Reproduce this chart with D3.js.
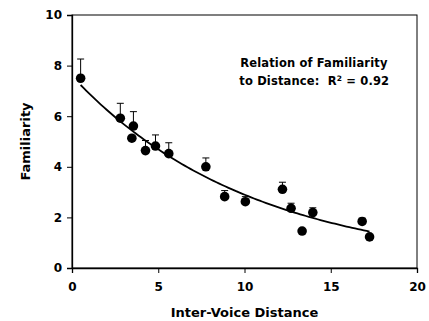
<!DOCTYPE html>
<html>
<head>
<meta charset="utf-8">
<script src="https://cdn.jsdelivr.net/npm/d3@7"></script>
<style>
  body { margin: 0; background: #fff; }
  svg text { font-family: "DejaVu Sans", Verdana, sans-serif; font-weight: bold; white-space: pre; }
</style>
</head>
<body>
<svg id="chart" width="429" height="321"></svg>
<script>
// distances (x), familiarity means (y), upper error bars
const distance = [0.5, 2.8, 3.56, 3.47, 4.26, 4.84, 5.61, 7.76, 8.85, 10.05, 12.2, 12.7, 13.34, 13.96, 16.82, 17.25];
const familiarity = [7.5, 5.92, 5.61, 5.13, 4.64, 4.82, 4.52, 4.0, 2.82, 2.62, 3.11, 2.36, 1.46, 2.19, 1.84, 1.23];
const errorUp = [0.76, 0.59, 0.57, 0, 0.4, 0.44, 0.43, 0.35, 0.24, 0.2, 0.28, 0.2, 0, 0.19, 0.13, 0];
const xTicks = [0, 5, 10, 15, 20];
const yTicks = [0, 2, 4, 6, 8, 10];
// exponential trend line: y = a * exp(-b * x)
const fitA = 7.59, fitB = 0.0963;
const fitRange = [0.5, 17.25];

const svg = d3.select('svg#chart');
const margin = {top: 15, right: 12, bottom: 53, left: 72};
const width = +svg.attr('width') - margin.left - margin.right;
const height = +svg.attr('height') - margin.top - margin.bottom;
const g = svg.append('g').attr('transform', `translate(${margin.left},${margin.top})`);

const x = d3.scaleLinear().domain([0, 20]).range([0, width]);
const y = d3.scaleLinear().domain([0, 10]).range([height, 0]);

// frame
g.append('rect')
    .attr('width', width)
    .attr('height', height)
    .attr('fill', 'none')
    .attr('stroke', '#000')
    .attr('stroke-width', 1);

const xAxis = g.append('g')
    .attr('transform', `translate(0,${height})`)
    .call(d3.axisBottom(x).tickValues(xTicks).tickSize(5).tickPadding(9));

const yAxis = g.append('g')
    .call(d3.axisLeft(y).tickValues(yTicks).tickSize(5).tickPadding(5));

[xAxis, yAxis].forEach(a => {
    a.select('.domain').attr('stroke', '#000').attr('stroke-width', 1.3);
    a.selectAll('.tick line').attr('stroke', '#000');
    a.selectAll('text').attr('font-size', 12).attr('fill', '#000')
        .style('font-family', '"DejaVu Sans", Verdana, sans-serif').style('font-weight', 'bold');
});

// trend line
const fitPts = d3.range(0, 101).map(i => {
    const xv = fitRange[0] + (fitRange[1] - fitRange[0]) * i / 100;
    return [xv, fitA * Math.exp(-fitB * xv)];
});
g.append('path')
    .datum(fitPts)
    .attr('fill', 'none')
    .attr('stroke', '#000')
    .attr('stroke-width', 1.8)
    .attr('d', d3.line().x(d => x(d[0])).y(d => y(d[1])));

const pts = distance.map((d, i) => ({x: d, y: familiarity[i], e: errorUp[i]}));

// error bars (upper only)
const eb = g.append('g').selectAll('g').data(pts.filter(d => d.e > 0)).join('g');
eb.append('line')
    .attr('x1', d => x(d.x)).attr('x2', d => x(d.x))
    .attr('y1', d => y(d.y)).attr('y2', d => y(d.y + d.e))
    .attr('stroke', '#000').attr('stroke-width', 1);
eb.append('line')
    .attr('x1', d => x(d.x) - 3.5).attr('x2', d => x(d.x) + 3.5)
    .attr('y1', d => y(d.y + d.e)).attr('y2', d => y(d.y + d.e))
    .attr('stroke', '#000').attr('stroke-width', 1);

g.append('g').selectAll('circle')
    .data(pts)
    .join('circle')
    .attr('cx', d => x(d.x))
    .attr('cy', d => y(d.y))
    .attr('r', 4.8)
    .attr('fill', '#000');

// annotation
const note = g.append('text')
    .attr('font-size', 11.5)
    .attr('letter-spacing', 0.15)
    .attr('fill', '#000');
note.append('tspan').attr('x', x(9.75)).attr('y', y(7.93)).text('Relation of Familiarity');
note.append('tspan').attr('x', x(9.7)).attr('y', y(7.23)).text('to Distance:  R');
note.append('tspan').attr('font-size', 7.5).attr('dy', -4.5).text('2');
note.append('tspan').attr('dy', 4.5).text(' = 0.92');

// axis titles
svg.append('text')
    .attr('x', margin.left + width / 2)
    .attr('y', 317)
    .attr('text-anchor', 'middle')
    .attr('font-size', 13)
    .text('Inter-Voice Distance');

svg.append('text')
    .attr('transform', `translate(30,${margin.top + height / 2}) rotate(-90)`)
    .attr('text-anchor', 'middle')
    .attr('font-size', 13)
    .text('Familiarity');
</script>
</body>
</html>
